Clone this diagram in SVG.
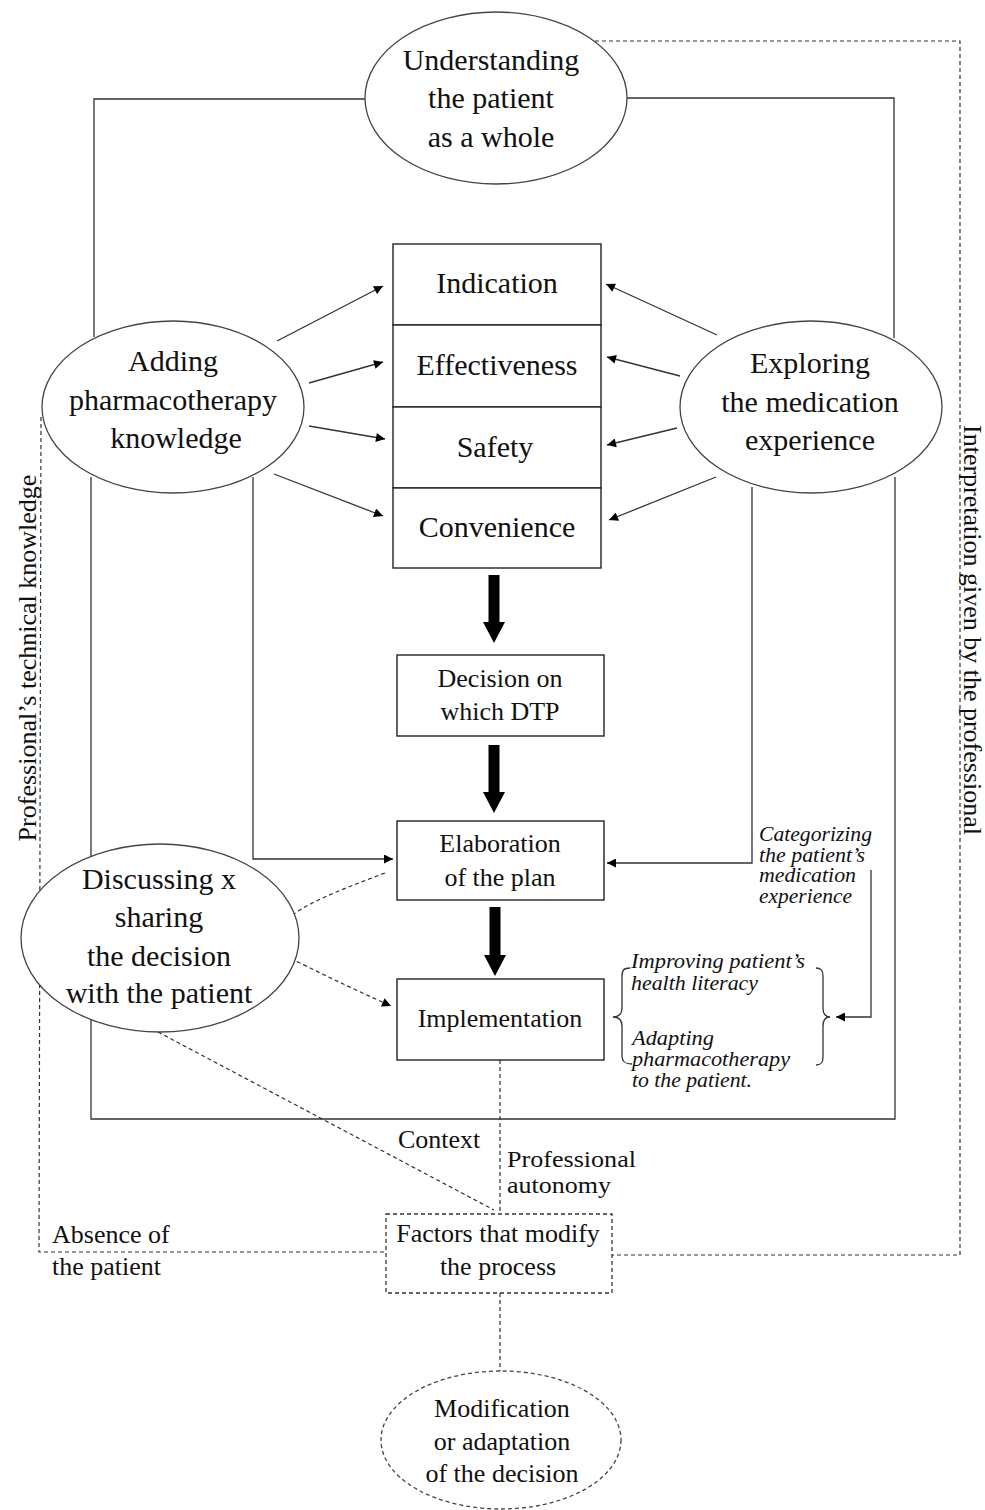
<svg xmlns="http://www.w3.org/2000/svg" width="985" height="1510" viewBox="0 0 985 1510">
<style>
  .t { font-family: "Liberation Serif", "Times New Roman", serif; fill: #111; }
  .c { text-anchor: middle; }
  .lg { font-size: 30px; }
  .md { font-size: 26px; }
  .it { font-family: "Liberation Serif", "Times New Roman", serif; font-style: italic; font-size: 20px; fill: #111; }
  .ln { fill: none; stroke: #333; stroke-width: 1.3; }
  .dl { fill: none; stroke: #333; stroke-width: 1.2; stroke-dasharray: 4 3; }
  .box { fill: #fff; stroke: #222; stroke-width: 1.4; }
  .ell { fill: #fff; stroke: #444; stroke-width: 1.3; }
  .dbox { fill: #fff; stroke: #333; stroke-width: 1.3; stroke-dasharray: 4 3; }
  .thick { fill: #000; }
</style>
<defs>
  <marker id="ah" viewBox="0 0 10 10" refX="10" refY="5" markerWidth="11" markerHeight="9" markerUnits="userSpaceOnUse" orient="auto">
    <path d="M0,0 L10,5 L0,10 Z" fill="#000"/>
  </marker>
</defs>
<rect width="985" height="1510" fill="#fff"/>

<g id="connectors">
  <path class="ln" d="M365,99 L94,99 L94,337"/>
  <path class="ln" d="M627,98 L894,98 L894,338"/>
  <path class="ln" d="M91,477 L91,1119 L895,1119 L895,477"/>
  <path class="ln" d="M253,477 L253,859 L393,859" marker-end="url(#ah)"/>
  <path class="ln" d="M752,487 L752,863 L607,863" marker-end="url(#ah)"/>
  <path class="ln" d="M871,870 L871,1017 L836,1017" marker-end="url(#ah)"/>
  <line class="ln" x1="277" y1="341" x2="383" y2="286" marker-end="url(#ah)"/>
  <line class="ln" x1="309" y1="383" x2="383" y2="362" marker-end="url(#ah)"/>
  <line class="ln" x1="309" y1="426" x2="385" y2="439" marker-end="url(#ah)"/>
  <line class="ln" x1="274" y1="474" x2="383" y2="516" marker-end="url(#ah)"/>
  <line class="ln" x1="717" y1="335" x2="606" y2="284" marker-end="url(#ah)"/>
  <line class="ln" x1="680" y1="376" x2="607" y2="357" marker-end="url(#ah)"/>
  <line class="ln" x1="677" y1="428" x2="607" y2="445" marker-end="url(#ah)"/>
  <line class="ln" x1="716" y1="477" x2="609" y2="520" marker-end="url(#ah)"/>
  <path class="thick" d="M488.5,575 L499.5,575 L499.5,622 L505,622 L494,643 L483,622 L488.5,622 Z"/>
  <path class="thick" d="M488.5,745 L499.5,745 L499.5,792 L505,792 L494,813 L483,792 L488.5,792 Z"/>
  <path class="thick" d="M489.5,907 L500.5,907 L500.5,955 L506,955 L495,976 L484,955 L489.5,955 Z"/>
  <path class="dl" d="M385,873 C340,890 300,905 285,922 C270,940 283,955 298,962 C330,978 360,992 391,1006" marker-end="url(#ah)"/>
  <path class="dl" d="M595,41 L960,41 L960,1255 L612,1255"/>
  <path class="dl" d="M41,417 L39,1252 L386,1252"/>
  <line class="dl" x1="500" y1="1060" x2="500" y2="1214"/>
  <line class="dl" x1="158" y1="1032" x2="494" y2="1210"/>
  <line class="dl" x1="500" y1="1293" x2="500" y2="1371"/>
  <path class="ln" d="M630,968 C624,968 622,970 622,976 L622,1008 C622,1014 619,1017 613,1017 C619,1017 622,1020 622,1026 L622,1056 C622,1062 625,1064 632,1064"/>
  <path class="ln" d="M816,968 C821,968 823,970 823,976 L823,1008 C823,1014 825,1017 830,1017 C825,1017 823,1020 823,1026 L823,1057 C823,1063 821,1065 816,1065"/>
</g>

<g id="n-understanding">
  <ellipse class="ell" cx="496" cy="98" rx="131" ry="86"/>
  <text class="t c lg" x="491" y="70">Understanding</text>
  <text class="t c lg" x="491" y="108">the patient</text>
  <text class="t c lg" x="491" y="147">as a whole</text>
</g>

<g id="n-adding">
  <ellipse class="ell" cx="173" cy="407" rx="131" ry="86"/>
  <text class="t c lg" x="173" y="371">Adding</text>
  <text class="t c lg" x="173" y="410">pharmacotherapy</text>
  <text class="t c lg" x="176" y="448">knowledge</text>
</g>

<g id="n-exploring">
  <ellipse class="ell" cx="811" cy="407" rx="131" ry="86"/>
  <text class="t c lg" x="810" y="373">Exploring</text>
  <text class="t c lg" x="810" y="412">the medication</text>
  <text class="t c lg" x="810" y="450">experience</text>
</g>

<g id="n-indication">
  <rect class="box" x="393" y="244" width="208" height="81"/>
  <text class="t c lg" x="497" y="293">Indication</text>
</g>
<g id="n-effectiveness">
  <rect class="box" x="393" y="325" width="208" height="82"/>
  <text class="t c lg" x="497" y="375">Effectiveness</text>
</g>
<g id="n-safety">
  <rect class="box" x="393" y="407" width="208" height="81"/>
  <text class="t c lg" x="495" y="457">Safety</text>
</g>
<g id="n-convenience">
  <rect class="box" x="393" y="488" width="208" height="80"/>
  <text class="t c lg" x="497" y="537">Convenience</text>
</g>

<g id="n-decision">
  <rect class="box" x="397" y="655" width="207" height="81"/>
  <text class="t c md" x="500" y="687">Decision on</text>
  <text class="t c md" x="500" y="720">which DTP</text>
</g>

<g id="n-elaboration">
  <rect class="box" x="397" y="821" width="207" height="79"/>
  <text class="t c md" x="500" y="852">Elaboration</text>
  <text class="t c md" x="500" y="886">of the plan</text>
</g>

<g id="n-implementation">
  <rect class="box" x="397" y="979" width="207" height="81"/>
  <text class="t c md" x="500" y="1027">Implementation</text>
</g>

<g id="n-discussing">
  <ellipse class="ell" cx="160" cy="938" rx="139" ry="94"/>
  <text class="t c lg" x="159" y="889">Discussing x</text>
  <text class="t c lg" x="159" y="927">sharing</text>
  <text class="t c lg" x="159" y="966">the decision</text>
  <text class="t c lg" x="159" y="1003">with the patient</text>
</g>

<g id="n-categorizing">
  <text class="it" x="759" y="841" textLength="113" lengthAdjust="spacingAndGlyphs">Categorizing</text>
  <text class="it" x="759" y="862" textLength="106" lengthAdjust="spacingAndGlyphs">the patient’s</text>
  <text class="it" x="759" y="882" textLength="97" lengthAdjust="spacingAndGlyphs">medication</text>
  <text class="it" x="759" y="903" textLength="93" lengthAdjust="spacingAndGlyphs">experience</text>
</g>

<g id="n-literacy">
  <text class="it" x="631" y="968" textLength="174" lengthAdjust="spacingAndGlyphs">Improving patient’s</text>
  <text class="it" x="631" y="990" textLength="127" lengthAdjust="spacingAndGlyphs">health literacy</text>
  <text class="it" x="632" y="1045" textLength="82" lengthAdjust="spacingAndGlyphs">Adapting</text>
  <text class="it" x="632" y="1066" textLength="158" lengthAdjust="spacingAndGlyphs">pharmacotherapy</text>
  <text class="it" x="632" y="1087" textLength="120" lengthAdjust="spacingAndGlyphs">to the patient.</text>
</g>

<g id="n-context">
  <text class="t md" x="398" y="1148">Context</text>
</g>
<g id="n-autonomy">
  <text class="t" x="507" y="1167" textLength="129" lengthAdjust="spacingAndGlyphs" style="font-size:24px">Professional</text>
  <text class="t" x="507" y="1193" textLength="104" lengthAdjust="spacingAndGlyphs" style="font-size:24px">autonomy</text>
</g>
<g id="n-absence">
  <text class="t md" x="52" y="1243">Absence of</text>
  <text class="t md" x="52" y="1275">the patient</text>
</g>

<g id="n-factors">
  <rect class="dbox" x="386" y="1214" width="226" height="79"/>
  <text class="t c md" x="498" y="1242">Factors that modify</text>
  <text class="t c md" x="498" y="1275">the process</text>
</g>

<g id="n-modification">
  <ellipse class="ell" cx="501" cy="1440" rx="120" ry="69" stroke-dasharray="4 3"/>
  <text class="t c md" x="502" y="1417">Modification</text>
  <text class="t c md" x="502" y="1450">or adaptation</text>
  <text class="t c md" x="502" y="1482">of the decision</text>
</g>

<g id="n-technical">
  <text class="t c md" transform="translate(36,658) rotate(-90)" x="0" y="0">Professional’s technical knowledge</text>
</g>
<g id="n-interpretation">
  <text class="t c" style="font-size:25px" transform="translate(964,630) rotate(90)" x="0" y="0" textLength="410" lengthAdjust="spacingAndGlyphs">Interpretation given by the professional</text>
</g>
</svg>
